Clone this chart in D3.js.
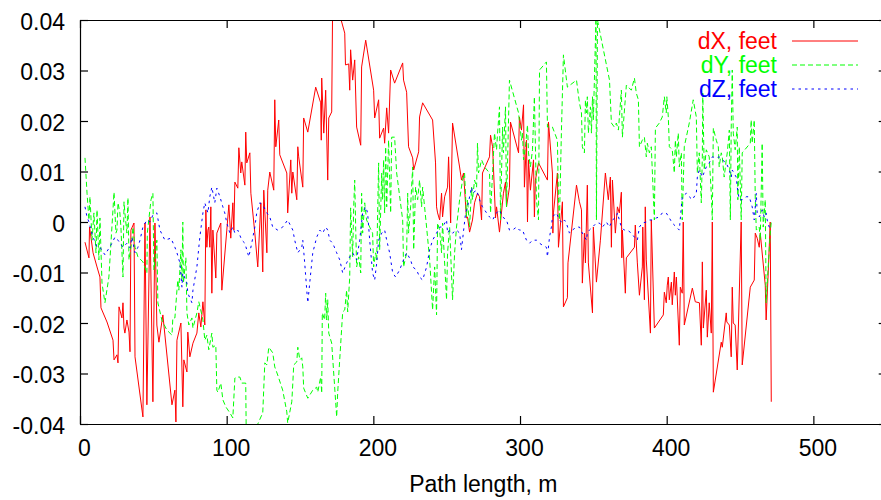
<!DOCTYPE html>
<html>
<head>
<meta charset="utf-8">
<script src="https://cdn.jsdelivr.net/npm/d3@7"></script>
<style>
  html, body { margin: 0; padding: 0; background: #ffffff; }
  svg { display: block; font-family: "Liberation Sans", Arial, Helvetica, sans-serif; }
</style>
</head>
<body>
<svg id="chart" width="881" height="500"></svg>
<script>
// ---- data (path length in m, deviation in feet) ----
const xTicks = [0, 100, 200, 300, 400, 500];
const yTicks = [-0.04, -0.03, -0.02, -0.01, 0, 0.01, 0.02, 0.03, 0.04];
const xLabel = "Path length, m";
const seriesNames = ["dX, feet", "dY, feet", "dZ, feet"];
const seriesColors = ["#ff0000", "#00ff00", "#0000ff"];

const dX = [[3.4,-0.0040],[6.1,-0.0071],[6.5,-0.0010],[8.9,-0.0061],[11.6,-0.0089],[13.6,-0.0109],[14.3,-0.0170],[18.4,-0.0198],[22.5,-0.0234],[23.2,-0.0273],[25.2,-0.0263],[25.9,-0.0279],[26.6,-0.0168],[28.6,-0.0190],[29.3,-0.0160],[30.0,-0.0210],[30.6,-0.0220],[32.0,-0.0194],[33.4,-0.0218],[34.1,-0.0257],[34.7,-0.0016],[36.8,-0.0002],[37.5,-0.0267],[42.9,-0.0386],[44.3,-0.0002],[45.6,-0.0362],[47.7,0.0010],[49.7,-0.0356],[51.1,-0.0002],[52.4,-0.0204],[53.8,-0.0238],[56.5,-0.0184],[62.7,-0.0362],[64.7,-0.0333],[65.4,-0.0396],[66.1,-0.0234],[68.8,-0.0200],[69.5,-0.0289],[70.1,-0.0366],[70.8,-0.0273],[72.9,-0.0297],[73.5,-0.0218],[74.9,-0.0267],[77.0,-0.0240],[79.7,-0.0220],[81.0,-0.0180],[82.4,-0.0208],[83.8,-0.0158],[85.1,-0.0204],[85.8,0.0024],[86.5,-0.0050],[87.2,-0.0016],[87.8,-0.0010],[88.5,-0.0050],[89.2,0.0030],[89.9,-0.0141],[90.6,-0.0016],[92.6,-0.0111],[93.3,-0.0022],[96.0,-0.0002],[96.7,-0.0135],[100.1,-0.0016],[101.5,0.0034],[102.8,-0.0032],[104.2,0.0038],[104.9,-0.0016],[105.6,0.0079],[107.6,0.0067],[108.3,0.0147],[109.6,0.0097],[110.3,0.0119],[112.4,0.0073],[113.0,0.0178],[113.7,0.0117],[115.8,0.0137],[116.5,0.0057],[119.2,-0.0022],[121.2,-0.0089],[123.3,0.0038],[124.6,-0.0099],[125.3,0.0063],[127.4,-0.0061],[128.0,0.0063],[129.4,0.0099],[132.1,0.0063],[132.8,0.0242],[133.5,0.0149],[135.5,0.0202],[136.2,0.0133],[141.0,0.0097],[141.6,0.0018],[143.7,0.0123],[144.4,0.0057],[145.1,0.0099],[147.8,0.0044],[148.5,0.0149],[149.1,0.0129],[151.9,0.0069],[152.5,0.0206],[155.3,0.0178],[160.7,0.0267],[164.1,0.0236],[164.5,0.0162],[164.8,0.0285],[166.2,0.0176],[167.5,0.0261],[168.9,0.0083],[169.6,0.0206],[171.6,0.0218],[172.3,0.0450],[177.1,0.0410],[180.5,0.0374],[181.0,0.0311],[183.2,0.0313],[183.9,0.0261],[184.5,0.0341],[185.9,0.0281],[187.3,0.0321],[188.6,0.0188],[191.4,0.0152],[192.0,0.0307],[194.8,0.0360],[200.2,0.0261],[200.9,0.0206],[203.6,0.0242],[204.3,0.0166],[207.0,0.0186],[207.7,0.0156],[209.1,0.0226],[210.4,0.0176],[211.8,0.0301],[214.5,0.0275],[220.0,0.0315],[220.6,0.0281],[222.7,0.0257],[224.0,0.0149],[226.8,0.0127],[227.5,0.0103],[230.9,0.0139],[231.5,0.0208],[233.6,0.0236],[240.4,0.0202],[242.4,0.0117],[243.1,0.0030],[243.8,0.0018],[245.2,0.0004],[246.5,0.0057],[247.2,0.0010],[248.6,0.0050],[250.6,0.0069],[251.3,0.0129],[252.7,-0.0002],[254.0,0.0196],[258.8,0.0109],[260.1,0.0083],[261.5,0.0097],[263.5,0.0008],[264.2,0.0010],[265.6,-0.0020],[267.6,0.0004],[269.0,0.0038],[271.0,0.0057],[272.4,0.0050],[273.8,0.0004],[274.4,0.0097],[279.2,0.0129],[279.9,0.0172],[281.3,0.0149],[283.3,0.0008],[284.0,0.0030],[286.0,-0.0020],[288.7,0.0057],[290.1,0.0079],[290.8,0.0030],[292.8,0.0069],[293.5,0.0198],[299.0,0.0137],[299.6,0.0208],[301.0,0.0182],[302.4,0.0232],[303.0,0.0069],[304.4,0.0162],[305.1,0.0000],[305.8,0.0123],[307.1,0.0063],[309.2,0.0123],[309.8,0.0010],[310.5,0.0083],[312.6,0.0117],[318.7,0.0083],[319.4,0.0198],[322.1,0.0097],[322.4,-0.0022],[322.8,0.0018],[325.5,0.0097],[326.2,-0.0050],[328.9,0.0040],[329.6,-0.0168],[332.3,-0.0150],[332.7,-0.0081],[338.5,0.0073],[340.5,0.0040],[341.9,0.0024],[342.5,-0.0121],[343.9,-0.0022],[344.6,-0.0081],[345.9,0.0073],[346.6,-0.0081],[349.4,-0.0180],[350.0,-0.0010],[352.1,-0.0119],[354.8,-0.0036],[358.2,0.0097],[360.2,0.0044],[361.6,0.0089],[362.3,-0.0050],[363.0,0.0083],[365.0,-0.0022],[366.4,0.0030],[367.7,0.0018],[369.1,0.0059],[369.4,-0.0071],[369.8,-0.0016],[371.8,-0.0141],[372.5,-0.0071],[378.0,-0.0050],[378.6,-0.0006],[380.0,-0.0081],[381.4,-0.0145],[383.4,-0.0089],[383.7,-0.0010],[384.8,-0.0154],[385.4,0.0030],[386.1,-0.0075],[388.9,-0.0220],[389.5,0.0004],[391.6,-0.0210],[397.7,-0.0184],[398.4,-0.0139],[399.7,-0.0160],[400.4,-0.0125],[401.1,-0.0109],[401.8,-0.0154],[403.2,-0.0119],[403.8,-0.0164],[405.2,-0.0099],[405.9,-0.0145],[406.6,-0.0109],[408.6,-0.0244],[409.3,-0.0129],[410.6,-0.0141],[411.3,0.0000],[412.0,-0.0204],[417.5,-0.0131],[419.5,-0.0158],[422.3,-0.0160],[423.6,-0.0244],[424.3,-0.0079],[425.0,-0.0210],[427.0,-0.0135],[427.7,-0.0228],[429.0,-0.0160],[430.4,-0.0220],[431.1,0.0000],[431.8,-0.0337],[437.2,-0.0238],[437.9,-0.0248],[440.6,-0.0180],[441.0,-0.0198],[442.7,-0.0204],[444.0,-0.0267],[444.7,-0.0129],[445.4,-0.0200],[446.7,-0.0204],[448.1,-0.0293],[450.8,0.0000],[451.5,-0.0283],[457.0,-0.0129],[459.7,-0.0115],[460.4,-0.0022],[461.7,-0.0032],[463.1,-0.0050],[463.8,-0.0022],[467.2,-0.0125],[467.8,-0.0194],[469.2,-0.0101],[470.6,0.0000],[471.3,-0.0356]];

const dY = [[3.4,0.0127],[4.8,0.0057],[6.1,0.0004],[6.8,0.0050],[8.2,-0.0036],[9.5,0.0018],[10.9,-0.0061],[11.6,0.0024],[12.9,-0.0075],[13.6,0.0008],[15.0,-0.0121],[17.0,-0.0160],[19.7,-0.0109],[23.2,0.0059],[24.5,-0.0022],[25.2,-0.0016],[25.9,0.0038],[27.2,0.0018],[27.9,-0.0010],[29.3,-0.0109],[30.0,0.0040],[30.6,0.0018],[32.0,-0.0022],[32.7,0.0048],[33.4,-0.0075],[35.4,-0.0036],[36.1,-0.0010],[37.5,-0.0050],[39.5,-0.0069],[42.9,-0.0079],[45.6,-0.0101],[45.9,-0.0022],[48.4,0.0044],[49.7,0.0057],[50.4,-0.0095],[52.4,-0.0036],[53.1,-0.0160],[55.8,-0.0194],[59.2,-0.0214],[62.7,-0.0224],[63.3,-0.0190],[64.7,-0.0190],[66.1,-0.0135],[66.7,-0.0115],[67.4,-0.0135],[68.8,-0.0055],[69.5,-0.0115],[70.1,0.0000],[70.5,-0.0121],[72.2,-0.0071],[72.9,-0.0180],[74.2,-0.0204],[76.3,-0.0190],[77.0,-0.0210],[79.7,-0.0180],[81.0,-0.0158],[83.1,-0.0184],[83.8,-0.0194],[85.1,-0.0234],[86.5,-0.0224],[87.8,-0.0253],[89.9,-0.0220],[90.6,-0.0248],[92.6,-0.0244],[93.3,-0.0333],[94.0,-0.0337],[96.0,-0.0319],[97.4,-0.0352],[99.4,-0.0366],[102.2,-0.0378],[104.2,-0.0388],[105.6,-0.0309],[106.9,-0.0307],[109.0,-0.0307],[110.3,-0.0319],[113.0,-0.0319],[113.4,-0.0440],[117.0,-0.0460],[121.2,-0.0400],[124.6,-0.0378],[126.0,-0.0279],[127.4,-0.0283],[128.7,-0.0248],[131.4,-0.0259],[132.8,-0.0287],[134.8,-0.0303],[138.2,-0.0333],[141.0,-0.0376],[141.6,-0.0398],[144.4,-0.0356],[145.1,-0.0319],[145.7,-0.0283],[147.8,-0.0277],[148.5,-0.0248],[149.9,-0.0273],[151.2,-0.0269],[151.9,-0.0287],[152.5,-0.0329],[155.3,-0.0349],[158.7,-0.0333],[161.4,-0.0327],[162.1,-0.0337],[164.1,-0.0307],[164.8,-0.0339],[165.2,-0.0180],[166.8,-0.0194],[167.5,-0.0141],[168.2,-0.0194],[168.9,-0.0154],[169.6,-0.0220],[171.6,-0.0240],[175.0,-0.0386],[175.7,-0.0337],[179.1,-0.0178],[180.5,-0.0174],[181.8,-0.0135],[182.5,-0.0178],[183.9,-0.0109],[184.5,0.0028],[185.9,-0.0069],[186.6,0.0030],[187.3,0.0083],[188.0,-0.0016],[188.6,-0.0089],[190.0,-0.0069],[191.4,-0.0101],[192.0,0.0057],[192.7,-0.0022],[194.1,0.0038],[195.4,0.0004],[197.5,-0.0010],[199.5,-0.0022],[200.2,-0.0089],[201.6,-0.0061],[202.3,-0.0075],[203.6,0.0117],[204.3,-0.0055],[205.7,0.0097],[206.3,0.0044],[207.0,0.0123],[207.7,0.0018],[208.4,0.0149],[209.1,0.0030],[210.4,0.0162],[211.8,0.0018],[212.5,0.0168],[214.5,0.0168],[215.9,0.0097],[220.0,0.0004],[220.6,-0.0089],[222.7,-0.0061],[223.4,0.0057],[224.0,-0.0022],[225.4,0.0030],[226.8,0.0109],[227.5,-0.0055],[228.8,0.0069],[230.2,0.0044],[231.5,0.0083],[232.9,0.0030],[233.6,0.0069],[236.3,-0.0010],[238.4,-0.0075],[240.4,-0.0174],[241.8,-0.0089],[243.1,-0.0184],[243.8,-0.0002],[245.2,-0.0016],[246.5,-0.0061],[247.2,-0.0002],[249.9,-0.0154],[250.6,-0.0061],[252.0,-0.0010],[254.0,-0.0154],[255.4,-0.0061],[256.7,-0.0010],[258.8,0.0044],[260.8,0.0083],[262.2,0.0097],[263.5,0.0010],[264.2,0.0044],[265.6,-0.0010],[267.0,0.0069],[267.6,0.0044],[269.0,0.0083],[270.4,0.0069],[271.0,0.0156],[271.7,0.0097],[273.8,0.0123],[275.8,0.0109],[279.2,0.0097],[279.9,0.0018],[281.3,0.0097],[282.6,0.0176],[284.0,0.0143],[284.7,0.0176],[286.0,0.0228],[286.7,0.0004],[288.1,0.0188],[288.7,0.0137],[290.1,0.0228],[290.8,0.0030],[292.8,0.0281],[299.0,0.0216],[301.0,0.0162],[301.7,0.0176],[302.4,0.0123],[303.7,0.0149],[305.1,0.0192],[305.8,0.0137],[307.1,0.0109],[308.5,0.0143],[309.8,0.0248],[310.5,0.0149],[311.2,0.0044],[312.6,0.0004],[313.3,0.0301],[318.0,0.0317],[318.7,0.0188],[322.1,0.0188],[325.5,0.0162],[326.2,0.0044],[326.9,0.0004],[328.2,0.0176],[329.6,0.0331],[332.3,0.0267],[338.5,0.0281],[340.5,0.0236],[341.9,0.0216],[342.5,0.0149],[343.9,0.0137],[344.6,0.0242],[345.3,0.0216],[345.9,0.0248],[346.6,0.0176],[348.0,0.0228],[348.7,0.0176],[349.4,0.0248],[350.0,0.0202],[351.8,0.0404],[352.1,0.0004],[352.8,0.0400],[361.0,0.0281],[362.3,0.0196],[364.3,0.0188],[365.7,0.0196],[367.1,0.0182],[369.1,0.0261],[369.8,0.0168],[372.5,0.0271],[375.9,0.0261],[378.0,0.0285],[379.3,0.0255],[380.7,0.0242],[381.4,0.0149],[383.4,0.0162],[384.8,0.0168],[386.1,0.0129],[386.8,0.0156],[388.2,0.0137],[389.5,0.0149],[391.6,0.0004],[392.3,0.0186],[395.0,0.0196],[397.0,0.0208],[398.4,0.0248],[399.7,0.0216],[400.1,0.0248],[401.1,0.0208],[401.8,0.0149],[403.8,0.0143],[405.2,0.0097],[405.9,0.0162],[406.6,0.0129],[407.9,0.0176],[408.6,0.0109],[410.0,0.0137],[410.6,0.0004],[412.0,0.0149],[415.4,0.0196],[418.1,0.0242],[420.2,0.0208],[420.9,0.0097],[422.2,0.0137],[423.6,0.0038],[424.3,0.0129],[424.6,0.0255],[425.6,0.0103],[427.0,0.0143],[429.0,0.0129],[430.4,0.0057],[431.1,0.0004],[431.8,0.0186],[433.8,0.0162],[435.2,0.0149],[435.8,0.0109],[437.2,0.0137],[437.9,0.0129],[439.2,0.0089],[440.6,0.0123],[441.3,0.0137],[442.7,0.0182],[443.4,0.0004],[444.0,0.0188],[444.7,0.0301],[445.4,0.0176],[446.7,0.0143],[448.1,0.0188],[448.5,0.0044],[449.5,0.0149],[450.8,0.0004],[451.5,0.0137],[457.0,0.0156],[457.6,0.0202],[458.3,0.0156],[459.7,0.0202],[460.4,0.0044],[461.1,-0.0016],[463.1,-0.0010],[463.8,-0.0036],[465.1,0.0156],[465.8,-0.0010],[467.2,0.0044],[467.8,-0.0160],[469.2,-0.0089],[470.6,-0.0022],[471.3,0.0000]];

const dZ = [[3.4,0.0030],[4.8,0.0010],[6.1,0.0000],[7.5,-0.0016],[8.9,-0.0030],[11.6,-0.0050],[13.6,-0.0050],[17.0,-0.0065],[19.1,-0.0055],[21.8,-0.0042],[23.8,-0.0030],[25.9,-0.0036],[29.3,-0.0050],[32.0,-0.0042],[34.1,-0.0051],[35.4,-0.0030],[37.5,-0.0061],[39.5,-0.0050],[40.9,-0.0036],[42.9,-0.0010],[45.6,0.0004],[47.7,0.0000],[49.7,0.0014],[52.4,0.0018],[54.5,-0.0016],[57.9,-0.0036],[62.0,-0.0032],[64.7,-0.0050],[66.1,-0.0061],[68.1,-0.0081],[69.5,-0.0129],[70.1,-0.0101],[72.9,-0.0121],[73.5,-0.0141],[76.3,-0.0160],[77.0,-0.0135],[79.7,-0.0089],[81.7,-0.0030],[83.8,0.0018],[85.1,0.0038],[87.2,0.0018],[88.5,0.0050],[89.9,0.0069],[91.9,0.0038],[93.3,0.0067],[95.4,0.0050],[97.4,0.0030],[98.7,0.0018],[100.1,-0.0002],[102.2,-0.0022],[104.2,-0.0010],[105.6,-0.0022],[107.6,-0.0016],[110.3,-0.0036],[112.4,-0.0042],[115.1,-0.0069],[117.1,-0.0042],[119.2,-0.0010],[120.5,0.0018],[122.6,0.0038],[124.6,0.0034],[127.4,0.0018],[129.4,0.0010],[131.4,-0.0010],[134.8,-0.0016],[138.2,-0.0010],[141.6,0.0004],[145.1,-0.0016],[146.4,-0.0036],[148.5,-0.0061],[151.2,-0.0050],[151.9,-0.0036],[153.2,-0.0081],[154.6,-0.0135],[155.3,-0.0160],[157.3,-0.0101],[158.7,-0.0061],[161.4,-0.0030],[163.5,-0.0016],[165.5,-0.0022],[167.5,-0.0010],[168.9,-0.0016],[170.3,-0.0036],[172.3,-0.0042],[175.0,-0.0061],[177.1,-0.0075],[179.1,-0.0101],[181.8,-0.0081],[183.9,-0.0069],[185.9,-0.0061],[188.6,-0.0075],[190.7,-0.0036],[192.7,0.0018],[194.8,0.0030],[196.1,0.0018],[197.5,-0.0036],[199.5,-0.0101],[200.9,-0.0115],[202.3,-0.0081],[203.6,-0.0036],[205.7,-0.0022],[207.7,-0.0016],[209.1,-0.0036],[211.1,-0.0061],[213.2,-0.0101],[215.2,-0.0109],[217.9,-0.0095],[220.6,-0.0075],[222.7,-0.0061],[225.4,-0.0075],[226.8,-0.0089],[229.5,-0.0095],[231.5,-0.0109],[233.6,-0.0115],[236.3,-0.0089],[238.4,-0.0055],[240.4,-0.0036],[243.1,-0.0022],[245.2,-0.0010],[247.2,-0.0010],[249.9,0.0004],[250.6,-0.0022],[252.0,-0.0016],[254.0,-0.0022],[256.7,-0.0016],[258.8,-0.0022],[260.1,-0.0055],[260.8,-0.0036],[262.9,0.0018],[264.2,0.0030],[267.0,0.0069],[267.6,0.0057],[270.4,0.0063],[272.4,0.0044],[274.4,0.0030],[277.2,0.0018],[279.2,0.0010],[281.3,0.0004],[284.0,0.0018],[286.0,0.0024],[288.1,0.0010],[290.8,0.0004],[292.8,-0.0016],[294.9,-0.0016],[297.6,-0.0010],[299.6,-0.0016],[301.7,-0.0016],[304.4,-0.0036],[306.5,-0.0042],[308.5,-0.0036],[311.2,-0.0036],[313.3,-0.0042],[315.3,-0.0046],[318.0,-0.0050],[318.7,-0.0069],[320.1,-0.0030],[321.4,-0.0010],[322.1,0.0010],[324.8,0.0018],[326.9,0.0004],[328.9,-0.0002],[330.3,0.0004],[331.6,-0.0002],[333.7,-0.0022],[335.7,-0.0016],[338.5,-0.0010],[340.5,-0.0010],[342.5,-0.0022],[345.3,-0.0036],[345.9,-0.0022],[347.3,-0.0016],[349.4,-0.0010],[352.1,-0.0002],[354.1,-0.0002],[356.2,-0.0010],[358.9,0.0000],[360.9,-0.0010],[363.0,0.0004],[365.7,0.0010],[366.4,0.0018],[367.7,0.0004],[369.1,-0.0010],[371.1,-0.0016],[373.2,-0.0016],[375.9,-0.0022],[378.0,-0.0030],[380.0,-0.0036],[381.4,-0.0010],[383.4,-0.0002],[386.1,0.0000],[388.2,0.0004],[390.2,0.0004],[392.9,0.0008],[395.0,0.0010],[397.0,0.0018],[399.7,0.0018],[401.8,0.0008],[403.8,-0.0002],[406.6,-0.0010],[408.6,-0.0016],[410.6,0.0050],[413.4,0.0057],[415.4,0.0050],[417.5,0.0044],[420.2,0.0057],[420.9,0.0089],[422.2,0.0103],[424.3,0.0089],[427.0,0.0109],[429.0,0.0117],[431.1,0.0129],[433.8,0.0127],[435.8,0.0129],[437.9,0.0123],[440.6,0.0117],[442.7,0.0103],[444.0,0.0089],[444.7,0.0103],[447.4,0.0089],[448.1,0.0069],[449.5,0.0044],[451.5,0.0044],[454.2,0.0050],[456.3,0.0050],[458.3,0.0030],[459.7,0.0004],[461.1,0.0057],[461.7,0.0018],[463.1,0.0010],[464.4,0.0018],[465.1,0.0024],[466.5,0.0010],[467.8,0.0018],[468.5,0.0004],[469.9,-0.0010],[471.3,-0.0016]];

const allSeries = [dX, dY, dZ];
const dashes = [null, "5,3", "2.5,4"];

// ---- layout ----
const chartW = 881, chartH = 500;
const mLeft = 80, mTop = 20, mBottom = 424, mRight = 886.7;
const FONT = 23;

const svg = d3.select("#chart");
svg.append("rect").attr("width", chartW).attr("height", chartH).attr("fill", "#ffffff");

const x = d3.scaleLinear().domain([0, 550]).range([mLeft, mRight]);
const y = d3.scaleLinear().domain([-0.04, 0.04]).range([mBottom, mTop]);

// clip for data
svg.append("defs").append("clipPath").attr("id", "plotclip")
  .append("rect").attr("x", mLeft).attr("y", mTop)
  .attr("width", mRight - mLeft).attr("height", mBottom - mTop);

// data lines
const line = d3.line().x(d => x(d[0])).y(d => y(d[1]));
const dataG = svg.append("g").attr("clip-path", "url(#plotclip)");
allSeries.forEach((s, i) => {
  dataG.append("path")
    .datum(s)
    .attr("d", line)
    .attr("fill", "none")
    .attr("stroke", seriesColors[i])
    .attr("stroke-width", 1)
    .attr("stroke-dasharray", dashes[i]);
});

// axes (gnuplot style: inward ticks, mirrored)
const yFmt = v => (Math.abs(v) < 1e-12 ? "0" : v.toFixed(2));

const gB = svg.append("g").attr("transform", `translate(0,${mBottom})`)
  .call(d3.axisBottom(x).tickValues(xTicks).tickSizeInner(-8).tickSizeOuter(0).tickFormat(d3.format("d")));
const gT = svg.append("g").attr("transform", `translate(0,${mTop})`)
  .call(d3.axisTop(x).tickValues(xTicks).tickSizeInner(-8).tickSizeOuter(0).tickFormat(""));
const gL = svg.append("g").attr("transform", `translate(${mLeft},0)`)
  .call(d3.axisLeft(y).tickValues(yTicks).tickSizeInner(-8).tickSizeOuter(0).tickFormat(yFmt));
const gR = svg.append("g").attr("transform", `translate(${mRight},0)`)
  .call(d3.axisRight(y).tickValues(yTicks).tickSizeInner(-8).tickSizeOuter(0).tickFormat(""));

[gB, gT, gL, gR].forEach(g => {
  g.selectAll("path.domain").attr("stroke", "#000").attr("stroke-width", 1.2);
  g.selectAll(".tick line").attr("stroke", "#000").attr("stroke-width", 1.2);
  g.selectAll("text").attr("font-family", "'Liberation Sans', Arial, sans-serif")
    .attr("font-size", FONT).attr("fill", "#000");
});
gB.selectAll(".tick text").attr("y", 32).attr("dy", null).attr("dx", 4);
gL.selectAll(".tick text").attr("x", -15).attr("dy", null).attr("y", 9);

// x axis label
svg.append("text")
  .attr("x", (mLeft + mRight) / 2).attr("y", 492)
  .attr("text-anchor", "middle")
  .attr("font-size", FONT).attr("fill", "#000")
  .text(xLabel);

// legend
const legendY = [41, 65, 89];
seriesNames.forEach((name, i) => {
  svg.append("text")
    .attr("x", 777).attr("y", legendY[i] + 8)
    .attr("text-anchor", "end")
    .attr("font-size", FONT).attr("fill", seriesColors[i])
    .text(name);
  svg.append("line")
    .attr("x1", 792).attr("x2", 858)
    .attr("y1", legendY[i]).attr("y2", legendY[i])
    .attr("stroke", seriesColors[i]).attr("stroke-width", 1)
    .attr("stroke-dasharray", dashes[i]);
});
</script>
</body>
</html>
